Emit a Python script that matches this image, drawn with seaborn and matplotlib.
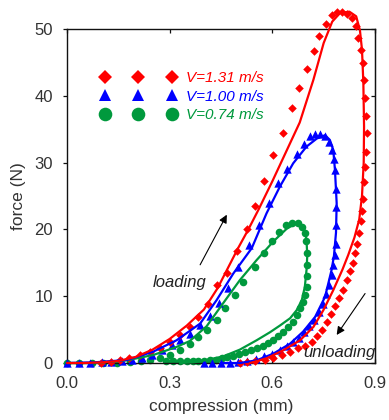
import matplotlib
matplotlib.use("Agg")
import matplotlib.pyplot as plt
from matplotlib.lines import Line2D
from matplotlib.font_manager import FontProperties
import seaborn as sns

# measured points (compression mm, force N), in loop order: loading then unloading
red_x = [0.10, 0.13, 0.155, 0.18, 0.213, 0.243, 0.272, 0.301, 0.330, 0.359, 0.384, 0.413,
         0.439, 0.468, 0.496, 0.525, 0.549, 0.577, 0.603, 0.632, 0.657, 0.679, 0.700, 0.721,
         0.736, 0.756, 0.773, 0.788, 0.803, 0.817, 0.832, 0.845, 0.851, 0.858, 0.864, 0.868,
         0.871, 0.874, 0.876, 0.873, 0.871, 0.869, 0.866, 0.863, 0.860, 0.854, 0.847, 0.841,
         0.835, 0.827, 0.817, 0.807, 0.796, 0.783, 0.771, 0.759, 0.744, 0.730, 0.715, 0.695,
         0.676, 0.652, 0.627, 0.603, 0.578, 0.550, 0.525, 0.505]
red_y = [0.05, 0.15, 0.4, 0.7, 1.2, 1.7, 2.3, 3.2, 4.2, 5.4, 6.9, 8.9,
         11.7, 13.5, 16.7, 20.0, 23.5, 27.3, 31.1, 34.5, 38.1, 41.2, 44.0, 46.7,
         49.0, 50.7, 52.1, 52.5, 52.6, 52.2, 51.6, 50.4, 48.6, 46.9, 44.9, 42.3,
         39.6, 37.0, 34.4, 31.6, 29.4, 27.1, 24.6, 22.8, 21.2, 19.4, 17.8, 16.4,
         15.0, 13.8, 12.5, 11.0, 9.8, 8.6, 7.3, 6.2, 5.0, 4.0, 3.2, 2.6,
         2.2, 1.7, 1.2, 0.8, 0.5, 0.3, 0.1, 0.0]

blue_x = [0.0, 0.034, 0.068, 0.101, 0.13, 0.16, 0.19, 0.218, 0.247, 0.277, 0.306, 0.330,
          0.359, 0.389, 0.418, 0.444, 0.470, 0.500, 0.532, 0.562, 0.590, 0.618, 0.644, 0.671,
          0.693, 0.710, 0.725, 0.739, 0.754, 0.767, 0.773, 0.780, 0.783, 0.785, 0.786, 0.786,
          0.786, 0.783, 0.778, 0.773, 0.766, 0.757, 0.747, 0.736, 0.723, 0.708, 0.693, 0.677,
          0.660, 0.642, 0.622, 0.600, 0.576, 0.551, 0.526, 0.500, 0.475, 0.450, 0.425, 0.400]
blue_y = [0.0, 0.0, 0.0, 0.1, 0.15, 0.3, 0.45, 0.7, 1.2, 1.9, 2.7, 3.4,
          4.4, 5.7, 7.0, 9.0, 11.2, 14.3, 17.7, 20.7, 23.9, 26.9, 29.1, 31.3,
          32.8, 34.0, 34.3, 34.3, 34.0, 33.1, 31.9, 30.5, 28.9, 26.1, 23.4, 20.7,
          17.8, 16.2, 14.7, 13.2, 11.7, 10.3, 8.9, 7.7, 6.5, 5.5, 4.6, 3.8,
          3.1, 2.5, 1.9, 1.4, 1.0, 0.6, 0.35, 0.15, 0.05, 0.0, 0.0, 0.0]

green_x = [0.0, 0.034, 0.072, 0.106, 0.145, 0.184, 0.215, 0.243, 0.272, 0.301, 0.330, 0.359,
           0.384, 0.408, 0.437, 0.462, 0.491, 0.515, 0.549, 0.576, 0.598, 0.620, 0.640, 0.658,
           0.674, 0.688, 0.695, 0.698, 0.700, 0.702, 0.702, 0.700, 0.695, 0.689, 0.681, 0.671,
           0.660, 0.647, 0.632, 0.618, 0.603, 0.588, 0.572, 0.554, 0.537, 0.520, 0.503, 0.486,
           0.468, 0.452, 0.435, 0.418, 0.400, 0.384, 0.367, 0.350, 0.330, 0.310, 0.290]
green_y = [0.0, 0.0, 0.0, 0.0, 0.05, 0.2, 0.35, 0.45, 0.7, 1.2, 1.9, 2.9,
           3.9, 4.9, 6.4, 8.2, 10.2, 12.2, 14.4, 16.4, 18.2, 19.6, 20.6, 21.0,
           20.9, 20.3, 19.4, 18.2, 16.4, 14.7, 13.0, 11.4, 10.2, 9.2, 8.2, 7.2,
           6.2, 5.4, 4.7, 4.0, 3.5, 3.0, 2.6, 2.3, 1.9, 1.6, 1.3, 1.1,
           0.9, 0.7, 0.5, 0.4, 0.3, 0.3, 0.3, 0.3, 0.35, 0.3, 0.3]

# model curves
red_fit_x = [0.0, 0.05, 0.10, 0.15, 0.20, 0.25, 0.30, 0.35, 0.40, 0.44, 0.47, 0.50, 0.53,
             0.56, 0.60, 0.64, 0.68, 0.72, 0.75, 0.775, 0.798, 0.825, 0.845, 0.856, 0.862,
             0.866, 0.868, 0.867, 0.862, 0.854, 0.840, 0.822, 0.805, 0.778, 0.749, 0.720,
             0.681, 0.632, 0.583, 0.535]
red_fit_y = [0.0, 0.0, 0.1, 0.3, 0.9, 2.0, 3.6, 5.6, 8.0, 11.2, 14.2, 17.2, 20.0,
             23.0, 27.2, 31.6, 36.0, 42.4, 47.9, 51.1, 52.4, 52.6, 51.9, 49.8, 46.9,
             41.9, 35.4, 30.0, 25.0, 21.5, 18.8, 16.2, 14.0, 10.9, 7.9, 5.4,
             3.4, 1.9, 0.7, 0.0]

blue_fit_x = [0.0, 0.08, 0.175, 0.252, 0.320, 0.389, 0.437, 0.486, 0.540, 0.583, 0.622,
              0.661, 0.700, 0.730, 0.754, 0.768, 0.778, 0.783, 0.788, 0.786, 0.780, 0.773,
              0.754, 0.725, 0.690, 0.652, 0.603, 0.554, 0.505, 0.450]
blue_fit_y = [0.0, 0.1, 0.45, 1.7, 3.4, 5.9, 9.4, 13.4, 17.2, 22.4, 26.4,
              29.9, 32.4, 33.6, 34.1, 33.4, 31.9, 28.9, 23.9, 19.5, 16.0, 13.9,
              9.9, 6.9, 4.7, 2.9, 1.4, 0.4, 0.0, 0.0]

green_fit_x = [0.0, 0.08, 0.175, 0.252, 0.320, 0.359, 0.408, 0.457, 0.505, 0.554, 0.603,
               0.642, 0.666, 0.686, 0.695, 0.700, 0.702, 0.700, 0.695, 0.686, 0.671, 0.652,
               0.622, 0.593, 0.554, 0.505, 0.457, 0.408, 0.370, 0.330]
green_fit_y = [0.0, 0.0, 0.4, 1.2, 2.4, 3.3, 5.5, 9.0, 12.4, 15.4, 18.2,
               20.1, 20.8, 20.6, 19.8, 18.4, 16.0, 14.0, 11.4, 9.4, 7.9, 6.7,
               5.6, 4.6, 3.4, 2.0, 1.0, 0.45, 0.1, 0.0]

labels = ["V=1.31 m/s", "V=1.00 m/s", "V=0.74 m/s"]
RED, BLUE, GREEN = "#FF0000", "#0000FF", "#00993D"

sns.set_style("ticks")
plt.rcParams["font.family"] = ["Liberation Sans", "DejaVu Sans"]

fig = plt.figure(figsize=(3.89, 4.2), dpi=100)
ax = fig.add_axes([67 / 389, 57 / 420, 308 / 389, 334 / 420])

series = [
    (green_x, green_y, green_fit_x, green_fit_y, GREEN, "o", 30),
    (blue_x, blue_y, blue_fit_x, blue_fit_y, BLUE, "^", 36),
    (red_x, red_y, red_fit_x, red_fit_y, RED, "D", 19),
]
for i, (mx, my, fx, fy, col, mk, sz) in enumerate(series):
    sns.scatterplot(x=mx, y=my, marker=mk, s=sz, color=col, linewidth=0,
                    clip_on=False, zorder=2 + i, ax=ax)
for i, (mx, my, fx, fy, col, mk, sz) in enumerate(series):
    sns.lineplot(x=fx, y=fy, sort=False, estimator=None, color=col, linewidth=1.6,
                 clip_on=False, zorder=6 + i, ax=ax)

ax.set_xlim(0, 0.9)
ax.set_ylim(0, 50)
ax.set_xticks([0.0, 0.3, 0.6, 0.9])
ax.set_xticklabels(["0.0", "0.3", "0.6", "0.9"])
ax.set_yticks([0, 10, 20, 30, 40, 50])

for s in ax.spines.values():
    s.set_visible(True)
    s.set_color("#111111")
    s.set_linewidth(1.0)

ax.tick_params(axis="y", which="both", direction="out", length=3, width=0.9,
               labelsize=12, pad=7, colors="#111111", labelcolor="#333333",
               right=False)
ax.tick_params(axis="x", direction="in", length=3, width=0.9, labelsize=12, pad=9,
               colors="#111111", labelcolor="#333333", top=True)
ax.tick_params(axis="x", which="both", labeltop=False)
ax2 = ax.secondary_yaxis("right")
ax2.set_yticks([0, 10, 20, 30, 40, 50])
ax2.tick_params(direction="in", length=3, width=0.9, labelright=False, colors="#111111")
ax2.spines["right"].set_color("#111111")

ax.set_xlabel("compression (mm)", fontsize=12.5, color="#333333", labelpad=6)
ax.set_ylabel("force (N)", fontsize=12.5, color="#333333", labelpad=6)

# legend: three markers per row with coloured italic labels
handles = [
    Line2D([], [], linestyle="none", marker="D", markersize=6.8, color=RED, markeredgewidth=0),
    Line2D([], [], linestyle="none", marker="^", markersize=8, color=BLUE, markeredgewidth=0),
    Line2D([], [], linestyle="none", marker="o", markersize=9.8, color=GREEN, markeredgewidth=0),
]
leg = ax.legend(handles, labels, numpoints=3, handlelength=5.0, handletextpad=0.6,
                labelspacing=0.3, frameon=False, loc="upper left",
                bbox_to_anchor=(0.108, 0.874), borderpad=0, borderaxespad=0,
                prop=FontProperties(family="Liberation Sans", style="italic", size=11),
                labelcolor=[RED, BLUE, GREEN])

ax.text(0.251, 12.0, "loading", fontsize=12, style="italic", color="#222222",
        ha="left", va="center")
ax.text(0.690, 1.6, "unloading", fontsize=12, style="italic", color="#222222",
        ha="left", va="center", zorder=12)
arrow = dict(arrowstyle="-|>", color="black", lw=0.8, mutation_scale=12,
             shrinkA=0, shrinkB=0)
ax.annotate("", xy=(0.467, 22.2), xytext=(0.389, 14.7), arrowprops=arrow)
ax.annotate("", xy=(0.788, 4.2), xytext=(0.871, 10.4), arrowprops=arrow)

fig.savefig("out.png", dpi=100)
